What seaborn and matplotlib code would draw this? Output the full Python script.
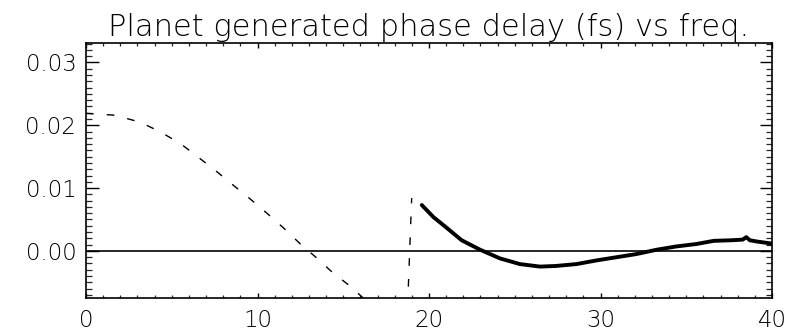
import numpy as np
import pandas as pd
import matplotlib
matplotlib.use("Agg")
import matplotlib.pyplot as plt
from matplotlib.ticker import MultipleLocator
import seaborn as sns

# ---- data ----
dash_x = [0.0, 1.69, 3.15, 4.3, 5.5, 6.6, 7.5, 8.57, 9.56, 10.55, 11.5, 12.5, 13.4, 14.4, 15.4, 16.2, 16.6]
dash_y = [0.0219, 0.0216, 0.0205, 0.0190, 0.0171, 0.0148, 0.0129, 0.0105, 0.0083, 0.0060,
          0.0037, 0.0011, -0.0010, -0.0035, -0.0056, -0.0076, -0.0088]
jump_x = [18.75, 18.99]
jump_y = [-0.0090, 0.0084]
solid_x = [19.58, 20.25, 20.93, 21.9, 22.97, 24.14, 25.3, 26.47, 27.4, 28.6, 29.8, 30.95,
           32.1, 33.3, 34.4, 35.6, 36.6, 37.7, 38.3, 38.5, 38.7, 39.1, 39.9, 40.0]
solid_y = [0.0073, 0.0054, 0.0039, 0.0017, 0.0002, -0.0012, -0.0021, -0.0025, -0.0024, -0.0021,
           -0.0015, -0.0010, -0.0005, 0.0002, 0.0007, 0.0011, 0.0016, 0.0017, 0.0018, 0.0022,
           0.0017, 0.0015, 0.0012, 0.0011]
zero_x = [0, 40]
zero_y = [0.0, 0.0]
title = "Planet generated phase delay (fs) vs freq."

sns.set_style("ticks")
plt.rcParams['font.family'] = ['DejaVu Sans']
plt.rcParams['font.weight'] = 'light'

fig = plt.figure(figsize=(7.91, 3.33), dpi=100)
ax = fig.add_axes([86/791, 1-298/333, (772-86)/791, (298-43)/333])

df_d = pd.DataFrame({"x": dash_x, "y": dash_y})
df_j = pd.DataFrame({"x": jump_x, "y": jump_y})
df_s = pd.DataFrame({"x": solid_x, "y": solid_y})
df_z = pd.DataFrame({"x": zero_x, "y": zero_y})

sns.lineplot(data=df_z, x="x", y="y", ax=ax, color="black", linewidth=1.2, sort=False)
sns.lineplot(data=df_d, x="x", y="y", ax=ax, color="black", linewidth=1.0, sort=False)
sns.lineplot(data=df_j, x="x", y="y", ax=ax, color="black", linewidth=1.0, sort=False)
sns.lineplot(data=df_s, x="x", y="y", ax=ax, color="black", linewidth=2.8, sort=False)
for ln in ax.lines[1:3]:
    ln.set_dashes((5.5, 9.5))

ax.set_xlim(0, 40)
ax.set_ylim(-0.0075, 0.0331)
ax.set_xlabel("")
ax.set_ylabel("")
ax.xaxis.set_major_locator(MultipleLocator(10))
ax.xaxis.set_minor_locator(MultipleLocator(1))
ax.yaxis.set_major_locator(MultipleLocator(0.01))
ax.yaxis.set_minor_locator(MultipleLocator(0.001))
ax.yaxis.set_major_formatter(matplotlib.ticker.FuncFormatter(lambda v, p: f"{v:.2f}"))

for s in ax.spines.values():
    s.set_visible(True)
    s.set_linewidth(1.2)
    s.set_color("black")

ax.tick_params(axis="x", which="major", direction="in", length=3.6, width=1.0,
               top=True, bottom=True, labelsize=16.5, pad=8, colors="black")
ax.tick_params(axis="x", which="minor", direction="in", length=2.0, width=0.9, top=True, bottom=True)
ax.tick_params(axis="y", which="major", direction="in", length=9.0, width=1.0,
               left=True, right=True, labelsize=16.5, pad=7, colors="black")
ax.tick_params(axis="y", which="minor", direction="in", length=4.3, width=0.9, left=True, right=True)
for lab in ax.get_xticklabels() + ax.get_yticklabels():
    lab.set_fontweight('light')

ax.set_title(title, fontsize=22, pad=5, color="black", fontweight='light')

fig.savefig("out.png", dpi=100)
